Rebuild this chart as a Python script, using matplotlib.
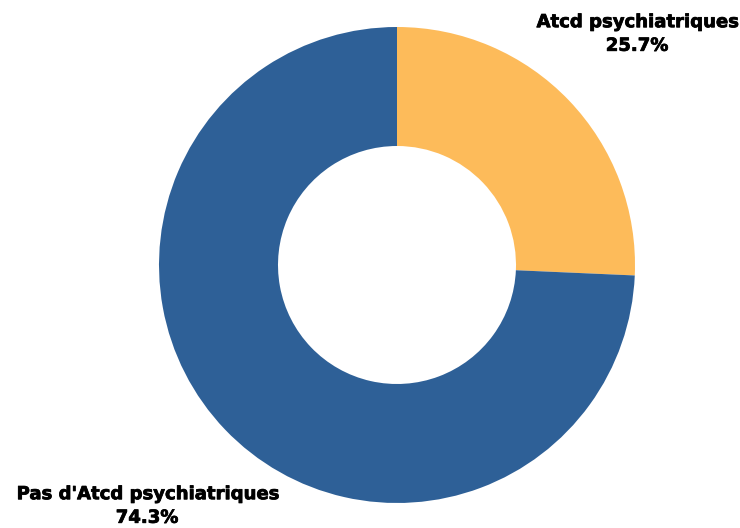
import matplotlib
matplotlib.use("Agg")
import matplotlib.pyplot as plt
import matplotlib.patheffects as pe

categories = ["Atcd psychiatriques", "Pas d'Atcd psychiatriques"]
values = [25.7, 74.3]
colors = ["#FDBB5A", "#2E6097"]

W, H = 740, 528
fig = plt.figure(figsize=(W / 100, H / 100), dpi=100)
fig.patch.set_facecolor("white")

cx, cy, r = 397, 265, 238
ax = fig.add_axes([(cx - r) / W, (H - cy - r) / H, 2 * r / W, 2 * r / H])
ax.pie(values, colors=colors, startangle=90, counterclock=False,
       radius=1.0, wedgeprops=dict(width=0.5, linewidth=0))
ax.set_xlim(-1, 1)
ax.set_ylim(-1, 1)
ax.set_aspect("equal")
ax.axis("off")

label_pos = [(637, 34), (147, 506)]
for cat, val, (px, py) in zip(categories, values, label_pos):
    fig.text(px / W, 1 - py / H, f"{cat}\n{val:.1f}%", ha="center", va="center",
             fontsize=13, fontweight="bold", family="DejaVu Sans",
             linespacing=1.4, color="black",
             path_effects=[pe.withStroke(linewidth=0.55, foreground="black")])

fig.savefig("out.png", dpi=100, facecolor="white")
